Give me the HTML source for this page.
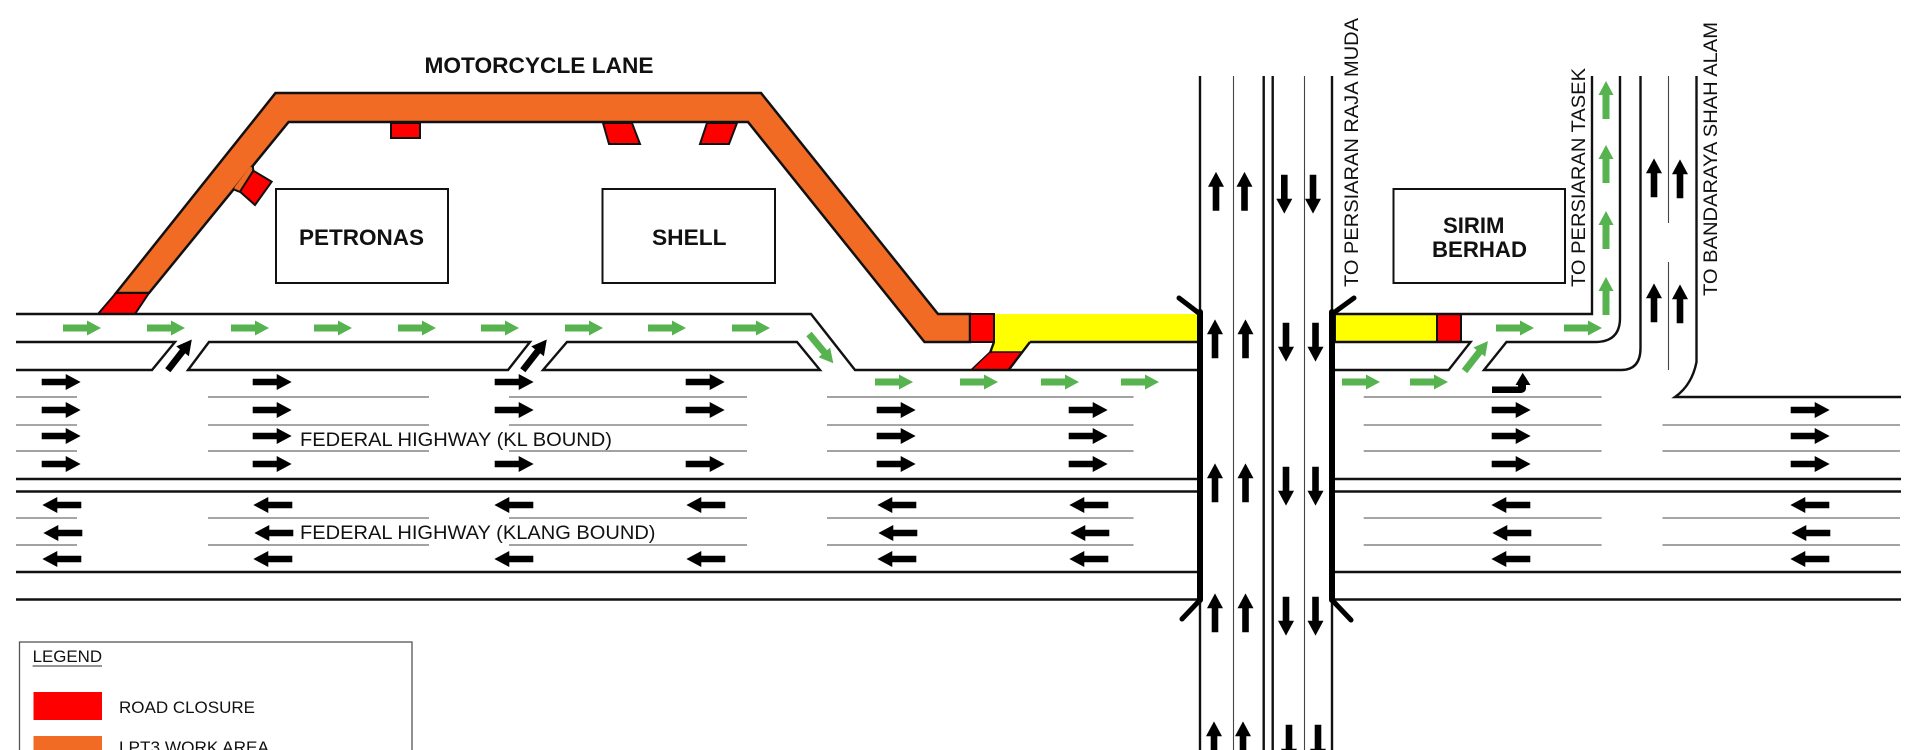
<!DOCTYPE html>
<html lang="en">
<head>
<meta charset="utf-8">
<title>Federal Highway traffic diagram</title>
<style>
html,body{margin:0;padding:0;background:#fff;width:1920px;height:750px;overflow:hidden}
svg{display:block}
text{font-family:"Liberation Sans",sans-serif;fill:#111}
</style>
</head>
<body>
<svg xmlns="http://www.w3.org/2000/svg" width="1920" height="750" viewBox="0 0 1920 750">
<rect width="1920" height="750" fill="#fff"/>

<!-- fills -->
<path d="M116 293L275.500 93H761L938 314H970V342H924.500L748 122H288.600L149 293Z" fill="#f26b25" stroke="#111" stroke-width="2.500" stroke-linejoin="miter"/>
<path d="M116 293H149L135 314H98Z" fill="#f00" stroke="#111" stroke-width="2"/>
<path d="M391 123H420V138H391Z" fill="#f00" stroke="#111" stroke-width="2"/>
<path d="M603 123H632L640 144H609Z" fill="#f00" stroke="#111" stroke-width="2"/>
<path d="M707 123H737L729 144H700Z" fill="#f00" stroke="#111" stroke-width="2"/>
<path d="M253.300 165L253.300 171L240 192L233.500 189.300Z" fill="#f26b25"/>
<path d="M251.800 168L236 188.500" stroke="#f26b25" stroke-width="4" fill="none"/>
<path d="M252.800 165L253.300 171M233.500 189.300L240 192" stroke="#111" stroke-width="2" fill="none"/>
<path d="M253.300 170.700L271.700 181.700L255 205L240 191.700Z" fill="#f00" stroke="#111" stroke-width="2"/>
<path d="M994 314H1198V342H1030L1022 353H990L994 342Z" fill="#ff0"/>
<path d="M970 314H994V342H970Z" fill="#f00" stroke="#111" stroke-width="2"/>
<path d="M990 352H1022L1008.600 370H971Z" fill="#f00" stroke="#111" stroke-width="1.500"/>
<path d="M1335 314H1437V342H1335Z" fill="#ff0" stroke="#111" stroke-width="2"/>
<path d="M1437 314H1461V342H1437Z" fill="#f00" stroke="#111" stroke-width="2"/>

<!-- buildings -->
<g fill="none" stroke="#111" stroke-width="2">
<rect x="276" y="189" width="172" height="94"/>
<rect x="602.500" y="189" width="172.500" height="94"/>
<rect x="1393.500" y="189" width="171.500" height="94"/>
<rect x="19.500" y="642" width="392.500" height="120" stroke="#555" stroke-width="1.300"/>
</g>

<!-- heavy roads -->
<g fill="none" stroke="#111" stroke-width="2.400">
<path d="M16 314H811L855 370H1198"/>
<path d="M16 342H175L152 370H16"/>
<path d="M209 342H530L508 370H188Z"/>
<path d="M567 342H797L820 370H543Z"/>
<path d="M1030 342H1198"/>
<path d="M994 342L990 353"/>
<path d="M1030 342L1008.600 370"/>
<path d="M1335 314H1592V76"/>
<path d="M1620 76V318Q1620 342 1595 342H1506.500L1484 370H1621Q1640.500 370 1640.500 348V76"/>
<path d="M1335 342H1470.600L1448.600 370H1335"/>
<path d="M1696.500 76V362Q1692 385 1675 397H1901"/>
<path d="M16 479H1198M16 491.500H1198M16 572H1198M16 599.500H1198"/>
<path d="M1335 479H1901M1335 491.500H1901M1335 572H1901M1335 599.500H1901"/>
<path d="M1200 76V314M1200 600V750M1263.700 76V750M1272.700 76V750M1332 76V314M1332 600V750"/>
</g>

<!-- thin lines -->
<g fill="none" stroke="#444" stroke-width="1.100">
<path d="M1233.500 76V750M1304.500 76V750M1668.500 76V223M1668.500 262V370"/>
<path d="M16 397H77M208 397H429M509 397H747M827 397H1133.500M1363.700 397H1601.600"/>
<path d="M16 451H77M208 451H429M509 451H747M827 451H1133.500M1363.700 451H1601.600M1662.500 451H1900"/>
<path d="M16 545H77M208 545H429M509 545H747M827 545H1133.500M1363.700 545H1601.600M1662.500 545H1900"/>
</g>
<g fill="none" stroke="#888" stroke-width="1.400">
<path d="M16 425H77M208 425H429M509 425H747M827 425H1133.500M1363.700 425H1601.600M1662.500 425H1900"/>
<path d="M16 518H77M208 518H429M509 518H747M827 518H1133.500M1363.700 518H1601.600M1662.500 518H1900"/>
</g>

<!-- barriers -->
<g fill="none" stroke="#000" stroke-linecap="round">
<path d="M1200 312V600M1332 312V600" stroke-width="6"/>
<path d="M1200 314L1179 298M1200 600L1182 619M1332 314L1354 298M1332 600L1351 620" stroke-width="5"/>
</g>

<!-- black horizontal arrows -->
<path fill="#000" stroke="#000" stroke-width=".6" d="
M42 379h24v-4.500l14 7.500-14 7.500v-4.500h-24zM42 407h24v-4.500l14 7.500-14 7.500v-4.500h-24zM42 433h24v-4.500l14 7.500-14 7.500v-4.500h-24zM42 461h24v-4.500l14 7.500-14 7.500v-4.500h-24z
M253 379h24v-4.500l14 7.500-14 7.500v-4.500h-24zM253 407h24v-4.500l14 7.500-14 7.500v-4.500h-24zM253 433h24v-4.500l14 7.500-14 7.500v-4.500h-24zM253 461h24v-4.500l14 7.500-14 7.500v-4.500h-24z
M495 379h24v-4.500l14 7.500-14 7.500v-4.500h-24zM495 407h24v-4.500l14 7.500-14 7.500v-4.500h-24zM495 461h24v-4.500l14 7.500-14 7.500v-4.500h-24z
M686 379h24v-4.500l14 7.500-14 7.500v-4.500h-24zM686 407h24v-4.500l14 7.500-14 7.500v-4.500h-24zM686 461h24v-4.500l14 7.500-14 7.500v-4.500h-24z
M877 407h24v-4.500l14 7.500-14 7.500v-4.500h-24zM877 433h24v-4.500l14 7.500-14 7.500v-4.500h-24zM877 461h24v-4.500l14 7.500-14 7.500v-4.500h-24z
M1069 407h24v-4.500l14 7.500-14 7.500v-4.500h-24zM1069 433h24v-4.500l14 7.500-14 7.500v-4.500h-24zM1069 461h24v-4.500l14 7.500-14 7.500v-4.500h-24z
M1492 407h24v-4.500l14 7.500-14 7.500v-4.500h-24zM1492 433h24v-4.500l14 7.500-14 7.500v-4.500h-24zM1492 461h24v-4.500l14 7.500-14 7.500v-4.500h-24z
M1791 407h24v-4.500l14 7.500-14 7.500v-4.500h-24zM1791 433h24v-4.500l14 7.500-14 7.500v-4.500h-24zM1791 461h24v-4.500l14 7.500-14 7.500v-4.500h-24z
M43 505l14-7.500v4.500h24v6h-24v4.500zM44 533l14-7.500v4.500h24v6h-24v4.500zM43 559l14-7.500v4.500h24v6h-24v4.500z
M254 505l14-7.500v4.500h24v6h-24v4.500zM255 533l14-7.500v4.500h24v6h-24v4.500zM254 559l14-7.500v4.500h24v6h-24v4.500z
M495 505l14-7.500v4.500h24v6h-24v4.500zM495 559l14-7.500v4.500h24v6h-24v4.500z
M687 505l14-7.500v4.500h24v6h-24v4.500zM687 559l14-7.500v4.500h24v6h-24v4.500z
M878 505l14-7.500v4.500h24v6h-24v4.500zM879 533l14-7.500v4.500h24v6h-24v4.500zM878 559l14-7.500v4.500h24v6h-24v4.500z
M1070 505l14-7.500v4.500h24v6h-24v4.500zM1071 533l14-7.500v4.500h24v6h-24v4.500zM1070 559l14-7.500v4.500h24v6h-24v4.500z
M1492 505l14-7.500v4.500h24v6h-24v4.500zM1493 533l14-7.500v4.500h24v6h-24v4.500zM1492 559l14-7.500v4.500h24v6h-24v4.500z
M1791 505l14-7.500v4.500h24v6h-24v4.500zM1792 533l14-7.500v4.500h24v6h-24v4.500zM1791 559l14-7.500v4.500h24v6h-24v4.500z"/>

<!-- black vertical arrows -->
<path fill="#000" stroke="#000" stroke-width=".6" d="
M1216 172.500l7.500 14h-4.500v24h-6v-24h-4.500zM1244.500 172.500l7.500 14h-4.500v24h-6v-24h-4.500z
M1215 320l7.500 14h-4.500v24h-6v-24h-4.500zM1245.500 320l7.500 14h-4.500v24h-6v-24h-4.500z
M1215 464l7.500 14h-4.500v24h-6v-24h-4.500zM1245.500 464l7.500 14h-4.500v24h-6v-24h-4.500z
M1215 594l7.500 14h-4.500v24h-6v-24h-4.500zM1245.500 594l7.500 14h-4.500v24h-6v-24h-4.500z
M1214 722l7.500 14h-4.500v24h-6v-24h-4.500zM1243 722l7.500 14h-4.500v24h-6v-24h-4.500z
M1654 159l7.500 14h-4.500v24h-6v-24h-4.500zM1680 160l7.500 14h-4.500v24h-6v-24h-4.500z
M1654 284l7.500 14h-4.500v24h-6v-24h-4.500zM1680 285l7.500 14h-4.500v24h-6v-24h-4.500z
M1281.300 175h6v24h4.500l-7.500 14-7.500-14h4.500zM1310 175h6v24h4.500l-7.500 14-7.500-14h4.500z
M1283 323h6v24h4.500l-7.500 14-7.500-14h4.500zM1312.500 323h6v24h4.500l-7.500 14-7.500-14h4.500z
M1283 467h6v24h4.500l-7.500 14-7.500-14h4.500zM1312.500 467h6v24h4.500l-7.500 14-7.500-14h4.500z
M1283 597h6v24h4.500l-7.500 14-7.500-14h4.500zM1312.500 597h6v24h4.500l-7.500 14-7.500-14h4.500z
M1286 725h6v24h4.500l-7.500 14-7.500-14h4.500zM1315 725h6v24h4.500l-7.500 14-7.500-14h4.500z"/>

<!-- black diagonal + turn arrows -->
<path fill="#000" stroke="#000" stroke-width=".6" transform="translate(168 370) rotate(-52)" d="M0-3h24v-4.500l14 7.500-14 7.500v-4.500h-24z"/>
<path fill="#000" stroke="#000" stroke-width=".6" transform="translate(523 370) rotate(-52)" d="M0-3h24v-4.500l14 7.500-14 7.500v-4.500h-24z"/>
<path fill="#000" d="M1492 386.500H1518V385H1515.500L1522.700 372.700L1530.500 385H1526V388Q1526 393 1519 393H1492Z"/>

<!-- green arrows -->
<path fill="#57b34f" d="
M63 324.500h24v-4l14 7.500-14 7.500v-4h-24zM147 324.500h24v-4l14 7.500-14 7.500v-4h-24zM231 324.500h24v-4l14 7.500-14 7.500v-4h-24z
M314 324.500h24v-4l14 7.500-14 7.500v-4h-24zM398 324.500h24v-4l14 7.500-14 7.500v-4h-24zM481 324.500h24v-4l14 7.500-14 7.500v-4h-24z
M565 324.500h24v-4l14 7.500-14 7.500v-4h-24zM648 324.500h24v-4l14 7.500-14 7.500v-4h-24zM732 324.500h24v-4l14 7.500-14 7.500v-4h-24z
M875 378.500h24v-4l14 7.500-14 7.500v-4h-24zM960 378.500h24v-4l14 7.500-14 7.500v-4h-24zM1041 378.500h24v-4l14 7.500-14 7.500v-4h-24zM1121 378.500h24v-4l14 7.500-14 7.500v-4h-24z
M1342 378.500h24v-4l14 7.500-14 7.500v-4h-24zM1410 378.500h24v-4l14 7.500-14 7.500v-4h-24z
M1496 324.500h24v-4l14 7.500-14 7.500v-4h-24zM1564 324.500h24v-4l14 7.500-14 7.500v-4h-24z
M1606 81l7.500 14h-4v24h-7v-24h-4zM1606 145l7.500 14h-4v24h-7v-24h-4zM1606 211l7.500 14h-4v24h-7v-24h-4zM1606 277l7.500 14h-4v24h-7v-24h-4z"/>
<path fill="#57b34f" transform="translate(809 334) rotate(50.200)" d="M0-3.500h24v-4l14 7.500-14 7.500v-4h-24z"/>
<path fill="#57b34f" transform="translate(1464.500 371) rotate(-51.900)" d="M0-3.500h24v-4l14 7.500-14 7.500v-4h-24z"/>

<!-- labels -->
<g font-weight="700" font-size="22.400">
<text x="424.500" y="73" textLength="229" lengthAdjust="spacingAndGlyphs">MOTORCYCLE LANE</text>
<text x="299" y="245" textLength="125" lengthAdjust="spacingAndGlyphs">PETRONAS</text>
<text x="652" y="245" textLength="74.500" lengthAdjust="spacingAndGlyphs">SHELL</text>
<text x="1443" y="233" textLength="61.500" lengthAdjust="spacingAndGlyphs">SIRIM</text>
<text x="1432" y="257" textLength="95" lengthAdjust="spacingAndGlyphs">BERHAD</text>
</g>
<g font-size="19.500">
<text x="300" y="446" textLength="312" lengthAdjust="spacingAndGlyphs">FEDERAL HIGHWAY (KL BOUND)</text>
<text x="300" y="539" textLength="355.500" lengthAdjust="spacingAndGlyphs">FEDERAL HIGHWAY (KLANG BOUND)</text>
<text transform="translate(1358 287) rotate(-90)" textLength="269" lengthAdjust="spacingAndGlyphs">TO PERSIARAN RAJA MUDA</text>
<text transform="translate(1585 287) rotate(-90)" textLength="219" lengthAdjust="spacingAndGlyphs">TO PERSIARAN TASEK</text>
<text transform="translate(1717 296) rotate(-90)" textLength="274" lengthAdjust="spacingAndGlyphs">TO BANDARAYA SHAH ALAM</text>
</g>

<!-- legend -->
<g font-size="17">
<text x="32.600" y="662" textLength="69.500" lengthAdjust="spacingAndGlyphs">LEGEND</text>
<text x="119" y="713" textLength="136" lengthAdjust="spacingAndGlyphs">ROAD CLOSURE</text>
<text x="119" y="753" textLength="150" lengthAdjust="spacingAndGlyphs">LPT3 WORK AREA</text>
</g>
<path d="M32.600 666H102" stroke="#555" stroke-width="1.200" fill="none"/>
<rect x="33.500" y="692" width="68.500" height="28" fill="#f00"/>
<rect x="33.500" y="736" width="68.500" height="20" fill="#f26b25"/>
</svg>
</body>
</html>
